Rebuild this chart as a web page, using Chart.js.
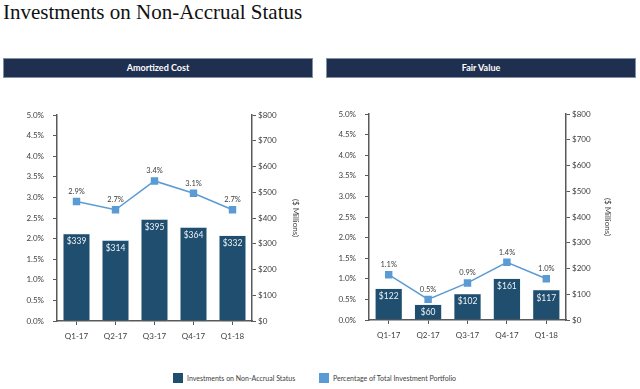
<!DOCTYPE html>
<html>
<head>
<meta charset="utf-8">
<script src="https://cdn.jsdelivr.net/npm/chart.js@4"></script>
<style>
    body { margin: 0; width: 640px; height: 389px; background: #fff; position: relative; overflow: hidden; font-family: Lato, sans-serif; }
    .title { position: absolute; left: 3px; top: 2px; font-family: "Liberation Serif", serif; font-size: 21px; line-height: 21px; color: #111; white-space: nowrap; }
    .head { position: absolute; top: 58px; height: 18px; background: #1f2f50; border: 1px solid #8090a8; color: #fff; font-weight: bold; font-size: 9px; line-height: 18px; text-align: center; }
    canvas { position: absolute; top: 100px; }
    .legend { position: absolute; top: 373px; font-size: 7px; color: #404040; line-height: 10px; white-space: nowrap; }
    .legend span { display: inline-block; width: 10px; height: 10px; vertical-align: top; margin-right: 4px; }
</style>
</head>
<body>
<div class="title">Investments on Non-Accrual Status</div>
<div class="head" style="left:3px; width:308px;">Amortized Cost</div>
<div class="head" style="left:326px; width:308px;">Fair Value</div>
<canvas id="amortized" width="320" height="250" style="left:0px"></canvas>
<canvas id="fair" width="320" height="250" style="left:320px"></canvas>
<div class="legend" style="left:173px"><span style="background:#1f4e6e"></span>Investments on Non-Accrual Status</div>
<div class="legend" style="left:319px"><span style="background:#5b9bd5"></span>Percentage of Total Investment Portfolio</div>

<script>
const quarters = ['Q1-17', 'Q2-17', 'Q3-17', 'Q4-17', 'Q1-18'];

// $ millions
const amortizedCost = [339, 314, 395, 364, 332];
const amortizedPct = [2.9, 2.7, 3.4, 3.1, 2.7];

const fairValue = [122, 60, 102, 161, 117];
const fairPct = [1.1, 0.5, 0.9, 1.4, 1.0];

const barColor = '#1f4e6e';
const lineColor = '#5b9bd5';
const axisColor = '#595959';

// draws "$339" inside the bars and "2.9%" above the markers
const valueLabels = {
    id: 'valueLabels',
    afterDatasetsDraw(chart) {
        const ctx = chart.ctx;
        ctx.save();
        ctx.textAlign = 'center';
        ctx.textBaseline = 'middle';
        chart.data.datasets.forEach((ds, i) => {
            const meta = chart.getDatasetMeta(i);
            meta.data.forEach((el, j) => {
                const v = ds.data[j];
                if (ds.type === 'bar') {
                    ctx.font = '8.5px Lato';
                    ctx.fillStyle = '#eef3f8';
                    ctx.fillText('$' + v, el.x, el.y + 8);
                } else {
                    ctx.font = '7.5px Lato';
                    ctx.fillStyle = '#404040';
                    ctx.fillText(v.toFixed(1) + '%', el.x, el.y - 10);
                }
            });
        });
        ctx.restore();
    }
};

function makeChart(id, bars, pcts, leftW, rightW, top, titlePad) {
    const tickFont = { family: 'Lato', size: 8 };
    return new Chart(document.getElementById(id), {
        data: {
            labels: quarters,
            datasets: [{
                type: 'line',
                label: 'Percentage of Total Investment Portfolio',
                data: pcts,
                yAxisID: 'yPct',
                borderColor: lineColor,
                backgroundColor: lineColor,
                borderWidth: 1.5,
                pointStyle: 'rect',
                pointRadius: 4.2,
                order: 0
            },
            {
                type: 'bar',
                label: 'Investments on Non-Accrual Status',
                data: bars,
                yAxisID: 'yUsd',
                backgroundColor: barColor,
                borderColor: '#c8d4e0',
                borderWidth: 0.5,
                categoryPercentage: 1,
                barPercentage: 0.69,
                order: 1
            }]
        },
        options: {
            responsive: false,
            animation: false,
            layout: { padding: { top: top, left: 0, right: 0, bottom: 0 } },
            plugins: { legend: { display: false }, tooltip: { enabled: false } },
            scales: {
                x: {
                    grid: { offset: false, drawOnChartArea: false, tickLength: 4, color: axisColor },
                    border: { color: axisColor, width: 1.5 },
                    ticks: { font: tickFont, color: '#404040', padding: 7 },
                    afterFit: s => { s.height = 250 - top - 206; }
                },
                yPct: {
                    position: 'left',
                    min: 0,
                    max: 5,
                    ticks: { stepSize: 0.5, font: tickFont, color: '#404040', padding: 9,
                        callback: v => v.toFixed(1) + '%' },
                    grid: { drawOnChartArea: false, tickLength: 4, color: axisColor },
                    border: { color: axisColor, width: 1.5 },
                    afterFit: s => { s.width = leftW; }
                },
                yUsd: {
                    position: 'right',
                    min: 0,
                    max: 800,
                    ticks: { stepSize: 100, font: tickFont, color: '#404040', padding: 2,
                        callback: v => '$' + v },
                    grid: { drawOnChartArea: false, tickLength: 4, color: axisColor },
                    border: { color: axisColor, width: 1.5 },
                    title: { display: true, text: '($ Millions)', font: tickFont, color: '#404040',
                        padding: { top: titlePad, bottom: 0 } },
                    afterFit: s => { s.width = rightW; }
                }
            }
        },
        plugins: [valueLabels]
    });
}

const chartAmortized = makeChart('amortized', amortizedCost, amortizedPct, 57, 68, 15, 20);
const chartFair = makeChart('fair', fairValue, fairPct, 49, 74, 14, 28);
</script>
</body>
</html>
